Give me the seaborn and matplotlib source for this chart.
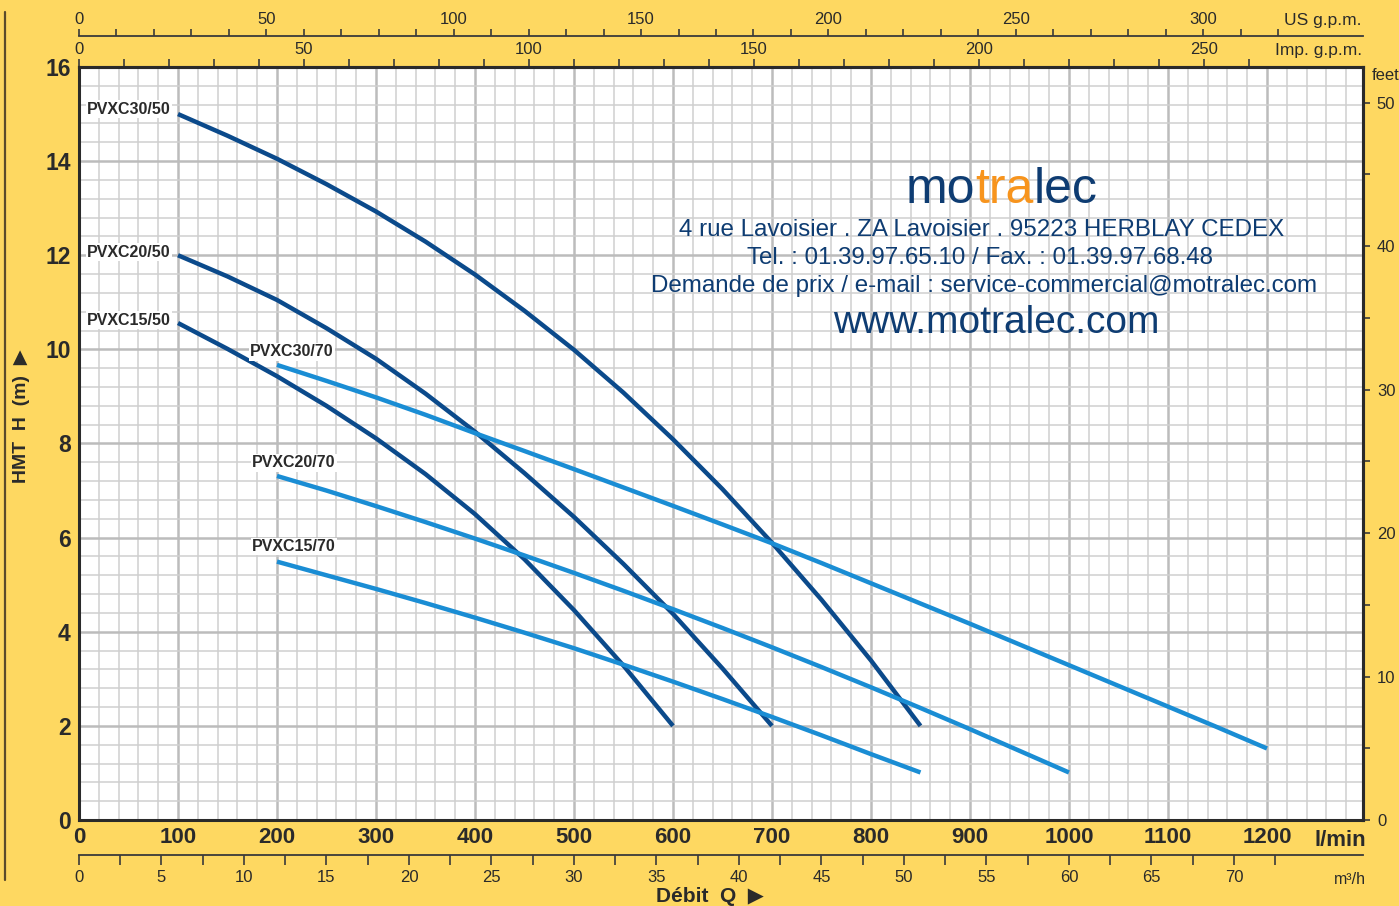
import numpy as np
import pandas as pd
import matplotlib
matplotlib.use("Agg")
import matplotlib.pyplot as plt
import seaborn as sns
from matplotlib.ticker import MultipleLocator, FixedLocator
from matplotlib.offsetbox import TextArea, HPacker, AnnotationBbox
from matplotlib.lines import Line2D

# ---------------- data ----------------
q_30_50 = [100, 150, 200, 250, 300, 350, 400, 450, 500, 550, 600, 650, 700, 750, 800, 850]
h_30_50 = [15.0, 14.54, 14.05, 13.51, 12.93, 12.29, 11.59, 10.82, 9.99, 9.08, 8.09, 7.03, 5.89, 4.68, 3.39, 2.0]

q_20_50 = [100, 150, 200, 250, 300, 350, 400, 450, 500, 550, 600, 650, 700]
h_20_50 = [12.0, 11.55, 11.05, 10.45, 9.8, 9.06, 8.25, 7.37, 6.44, 5.44, 4.38, 3.22, 2.0]

q_15_50 = [100, 150, 200, 250, 300, 350, 400, 450, 500, 550, 600]
h_15_50 = [10.56, 10.01, 9.43, 8.8, 8.11, 7.35, 6.5, 5.54, 4.46, 3.28, 2.0]

q_30_70 = [200, 250, 300, 350, 400, 450, 500, 550, 600, 650, 700, 750, 800, 850, 900, 950, 1000, 1050, 1100, 1150, 1200]
h_30_70 = [9.67, 9.33, 8.98, 8.61, 8.22, 7.84, 7.455, 7.065, 6.675, 6.28, 5.88, 5.46, 5.03, 4.6, 4.17, 3.73, 3.29, 2.85, 2.41, 1.97, 1.52]

q_20_70 = [200, 250, 300, 350, 400, 450, 500, 550, 600, 650, 700, 750, 800, 850, 900, 950, 1000]
h_20_70 = [7.31, 7.0, 6.67, 6.33, 5.98, 5.62, 5.25, 4.87, 4.48, 4.08, 3.67, 3.25, 2.82, 2.38, 1.93, 1.47, 1.01]

q_15_70 = [200, 250, 300, 350, 400, 450, 500, 550, 600, 650, 700, 750, 800, 850]
h_15_70 = [5.49, 5.2, 4.91, 4.61, 4.3, 3.98, 3.65, 3.3, 2.94, 2.57, 2.19, 1.8, 1.4, 1.01]

pump_names = ["PVXC30/50", "PVXC20/50", "PVXC15/50", "PVXC30/70", "PVXC20/70", "PVXC15/70"]

x_ticks = [0, 100, 200, 300, 400, 500, 600, 700, 800, 900, 1000, 1100, 1200]
y_ticks = [0, 2, 4, 6, 8, 10, 12, 14, 16]
us_gpm_ticks = [0, 50, 100, 150, 200, 250, 300]
imp_gpm_ticks = [0, 50, 100, 150, 200, 250]
m3h_ticks = [0, 5, 10, 15, 20, 25, 30, 35, 40, 45, 50, 55, 60, 65, 70]
feet_ticks = [0, 10, 20, 30, 40, 50]

address_lines = [
    "4 rue Lavoisier . ZA Lavoisier . 95223 HERBLAY CEDEX",
    "Tel. : 01.39.97.65.10 / Fax. : 01.39.97.68.48",
    "Demande de prix / e-mail : service-commercial@motralec.com",
]
website = "www.motralec.com"

# ---------------- style ----------------
BG = "#FED861"
DARK = "#0B4A8B"
LIGHT = "#1A8DD4"
NAVY = "#0E3C72"
ORANGE = "#F7941D"
INK = "#2a2a2a"

sns.set_theme(style="white")
FAM = ["Liberation Sans", "DejaVu Sans"]
plt.rcParams["font.family"] = FAM

W, H = 1399, 906
fig = plt.figure(figsize=(W / 100, H / 100), dpi=100, facecolor=BG)
ax = fig.add_axes([79 / W, 1 - 820 / H, (1363 - 79) / W, (820 - 67) / H])
ax.set_facecolor("white")

curves = [
    (pump_names[0], q_30_50, h_30_50),
    (pump_names[1], q_20_50, h_20_50),
    (pump_names[2], q_15_50, h_15_50),
    (pump_names[3], q_30_70, h_30_70),
    (pump_names[4], q_20_70, h_20_70),
    (pump_names[5], q_15_70, h_15_70),
]
df = pd.concat(
    [pd.DataFrame({"pump": n, "q": q, "h": h}) for n, q, h in curves],
    ignore_index=True,
)
palette = {n: (DARK if n.endswith("/50") else LIGHT) for n in pump_names}
sns.lineplot(data=df, x="q", y="h", hue="pump", palette=palette, lw=3.2,
             legend=False, sort=False, estimator=None, ax=ax,
             solid_capstyle="butt", solid_joinstyle="round")

ax.set_xlim(0, 1297)
ax.set_ylim(0, 16)
ax.set_xticks(x_ticks, labels=[str(v) for v in x_ticks], fontweight="bold", fontsize=16, color=INK)
ax.set_yticks(y_ticks, labels=[str(v) for v in y_ticks], fontweight="bold", fontsize=16.5, color=INK)
ax.xaxis.set_minor_locator(MultipleLocator(20))
ax.yaxis.set_minor_locator(MultipleLocator(0.4))
ax.grid(which="major", color="#bcbcbc", lw=1.8)
ax.grid(which="minor", color="#cfcfcf", lw=1.1)
ax.set_axisbelow(True)
ax.tick_params(which="both", length=0)
ax.tick_params(axis="x", pad=5)
ax.tick_params(axis="y", pad=6)
ax.set_xlabel("")
ax.set_ylabel("")
for s in ax.spines.values():
    s.set_color(INK)
    s.set_linewidth(2.2)
    s.set_visible(True)

# curve labels
label_offsets = {
    "PVXC30/50": (-7, 5, "right"),
    "PVXC20/50": (-7, 3, "right"),
    "PVXC15/50": (-7, 3, "right"),
    "PVXC30/70": (15, 13, "center"),
    "PVXC20/70": (17, 13, "center"),
    "PVXC15/70": (17, 15, "center"),
}
for n, q, h in curves:
    dx, dy, ha = label_offsets[n]
    ax.annotate(n, xy=(q[0], h[0]), xytext=(dx, dy), textcoords="offset pixels",
                ha=ha, va="center", fontsize=11.5, fontweight="bold", color=INK,
                bbox=dict(boxstyle="square,pad=0.08", fc="white", ec="none"))

# ---------------- secondary axes ----------------
tick_kw = dict(which="both", length=5, width=1.2, color="#3a3a3a", labelsize=12,
               labelcolor=INK, direction="out")

sec_us = ax.secondary_xaxis(1 + 31 / 753, functions=(lambda q: q / 3.785, lambda g: g * 3.785))
sec_us.set_xticks(us_gpm_ticks)
sec_us.xaxis.set_minor_locator(FixedLocator(np.arange(10, 321, 10)))
sec_us.tick_params(pad=1.5, **tick_kw)
sec_us.spines["top"].set_color("#3a3a3a")
sec_us.spines["top"].set_linewidth(1.3)

sec_imp = ax.secondary_xaxis("top", functions=(lambda q: q / 4.546, lambda g: g * 4.546))
sec_imp.set_xticks(imp_gpm_ticks)
sec_imp.xaxis.set_minor_locator(FixedLocator(np.arange(10, 261, 10)))
sec_imp.tick_params(pad=1.5, **dict(tick_kw, length=6))
sec_imp.spines["top"].set_color(INK)
sec_imp.spines["top"].set_linewidth(2.2)

sec_m3 = ax.secondary_xaxis(-35 / 753, functions=(lambda q: q * 0.06, lambda m: m / 0.06))
sec_m3.set_xticks(m3h_ticks)
sec_m3.xaxis.set_minor_locator(FixedLocator(np.arange(2.5, 75.1, 5)))
sec_m3.tick_params(pad=3, **dict(tick_kw, length=7.5))
sec_m3.spines["bottom"].set_color("#3a3a3a")
sec_m3.spines["bottom"].set_linewidth(1.3)

sec_ft = ax.secondary_yaxis("right", functions=(lambda h: h / 0.3048, lambda f: f * 0.3048))
sec_ft.set_yticks(feet_ticks)
sec_ft.yaxis.set_minor_locator(FixedLocator([5, 15, 25, 35, 45]))
sec_ft.tick_params(pad=5, **tick_kw)
sec_ft.spines["right"].set_color(INK)
sec_ft.spines["right"].set_linewidth(2.2)

# unit labels
fig.text(1362 / W, 1 - 20 / H, "US g.p.m.", ha="right", va="center", fontsize=12.5, color=INK)
fig.text(1362 / W, 1 - 50 / H, "Imp. g.p.m.", ha="right", va="center", fontsize=12.5, color=INK)
fig.text(1386 / W, 1 - 76 / H, "feet", ha="center", va="center", fontsize=12, color=INK)
fig.text(1366 / W, 1 - 840 / H, "l/min", ha="right", va="center", fontsize=16,
         fontweight="bold", color=INK)
fig.text(1366 / W, 1 - 880 / H, "m³/h", ha="right", va="center", fontsize=11.5, color=INK)

# axis titles
fig.text(22 / W, 1 - 416 / H, "HMT  H  (m)  ▶", rotation=90, ha="center", va="center",
         fontsize=14, fontweight="bold", color=INK)
fig.text(710 / W, 1 - 897 / H, "Débit  Q  ▶", ha="center", va="center",
         fontsize=15, fontweight="bold", color=INK)

# left border line
fig.add_artist(Line2D([5 / W, 5 / W], [1 - 12 / H, 1 - 880 / H], transform=fig.transFigure,
                      color="#5b4b2b", lw=1.6))

# ---------------- company block ----------------
parts = [
    TextArea("mo", textprops=dict(color=NAVY, fontsize=36, family=FAM)),
    TextArea("tra", textprops=dict(color=ORANGE, fontsize=36, family=FAM)),
    TextArea("lec", textprops=dict(color=NAVY, fontsize=36, family=FAM)),
]
logo = HPacker(children=parts, align="baseline", pad=0, sep=0)
fig.add_artist(AnnotationBbox(logo, (1002 / W, 1 - 190 / H), xycoords="figure fraction",
                              frameon=False, box_alignment=(0.5, 0.5)))
for (txt, xc, yc) in zip(address_lines, [982, 980, 984], [230, 258, 286]):
    fig.text(xc / W, 1 - yc / H, txt, ha="center", va="center", fontsize=17.4,
             color=NAVY)
fig.text(996 / W, 1 - 323 / H, website, ha="center", va="center", fontsize=28,
         color=NAVY)

fig.savefig("out.png", dpi=100, facecolor=BG)
